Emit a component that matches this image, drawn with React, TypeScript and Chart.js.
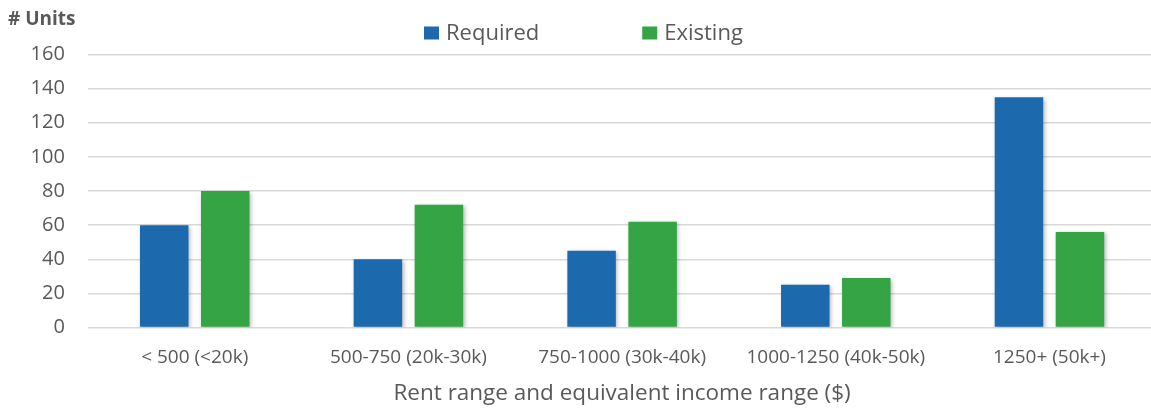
import React, { useEffect, useRef } from "react";
import { Chart, registerables } from "chart.js";

Chart.register(...registerables);

const categories = [
  "< 500 (<20k)",
  "500-750 (20k-30k)",
  "750-1000 (30k-40k)",
  "1000-1250 (40k-50k)",
  "1250+ (50k+)",
];
const requiredValues = [60, 40, 45, 25, 135];
const existingValues = [80, 72, 62, 29, 56];
const seriesLabels = ["Required", "Existing"];
const seriesColors = ["#1c6aad", "#34a444"];
const yAxisLabel = "# Units";
const xAxisLabel = "Rent range and equivalent income range ($)";
const yMin = 0;
const yMax = 160;
const yStep = 20;

const FONT = "'Open Sans', 'Noto Sans', sans-serif";
const TEXT = "#595959";

const shadowPlugin = {
  id: "barShadow",
  beforeDatasetsDraw(chart: any) {
    const ctx = chart.ctx;
    ctx.save();
    ctx.shadowColor = "rgba(0,0,0,0.28)";
    ctx.shadowBlur = 4;
    ctx.shadowOffsetX = 1.5;
    ctx.shadowOffsetY = 1.5;
  },
  afterDatasetsDraw(chart: any) {
    chart.ctx.restore();
  },
};

const overlayPlugin = {
  id: "overlay",
  afterDraw(chart: any) {
    const ctx = chart.ctx;
    ctx.save();
    // y axis title
    ctx.fillStyle = TEXT;
    ctx.font = `bold 19px ${FONT}`;
    ctx.textBaseline = "alphabetic";
    ctx.textAlign = "left";
    ctx.fillText(yAxisLabel, 8, 25);
    // legend
    ctx.font = `22px ${FONT}`;
    let x = 424;
    chart.data.datasets.forEach((ds: any) => {
      ctx.fillStyle = ds.backgroundColor;
      ctx.fillRect(x, 26.5, 15, 13);
      x += 15 + 7;
      ctx.fillStyle = TEXT;
      ctx.fillText(ds.label, x, 39.5);
      const w = ctx.measureText(ds.label).width;
      x += w + 103;
    });
    ctx.restore();
  },
};

export default function App() {
  const ref = useRef<HTMLCanvasElement>(null);
  useEffect(() => {
    if (!ref.current) return;
    const chart = new Chart(ref.current, {
      type: "bar",
      data: {
        labels: categories,
        datasets: [
          { label: seriesLabels[0], data: requiredValues, backgroundColor: seriesColors[0] },
          { label: seriesLabels[1], data: existingValues, backgroundColor: seriesColors[1] },
        ],
      },
      plugins: [shadowPlugin, overlayPlugin],
      options: {
        responsive: false,
        animation: false,
        layout: { padding: { left: 0, right: 3.7, top: 54.5, bottom: 0 } },
        plugins: {
          legend: { display: false },
          tooltip: { enabled: false },
        },
        datasets: {
          bar: { categoryPercentage: 0.571, barPercentage: 0.795 },
        },
        scales: {
          x: {
            grid: { display: false, drawTicks: false },
            border: { display: false },
            ticks: {
              color: TEXT,
              font: { family: FONT, size: 19 },
              padding: 19,
              maxRotation: 0,
              autoSkip: false,
            },
            title: {
              display: true,
              text: xAxisLabel,
              color: TEXT,
              font: { family: FONT, size: 22.5 },
              padding: { top: 0, bottom: 2 },
            },
            afterFit(scale: any) {
              scale.height = 409 - 327.5;
            },
          },
          y: {
            min: yMin,
            max: yMax,
            grid: { color: "#d9d9d9", lineWidth: 1.5, drawTicks: false },
            border: { display: false },
            ticks: {
              stepSize: yStep,
              color: TEXT,
              font: { family: FONT, size: 20 },
              padding: 23,
            },
            afterFit(scale: any) {
              scale.width = 87.9;
            },
          },
        },
      },
    });
    return () => chart.destroy();
  }, []);
  return (
    <div
      style={{
        position: "fixed",
        left: 0,
        top: 0,
        width: 1151,
        height: 409,
        overflow: "hidden",
        background: "#fff",
      }}
    >
      <canvas ref={ref} width={1160} height={409} style={{ display: "block" }} />
    </div>
  );
}
